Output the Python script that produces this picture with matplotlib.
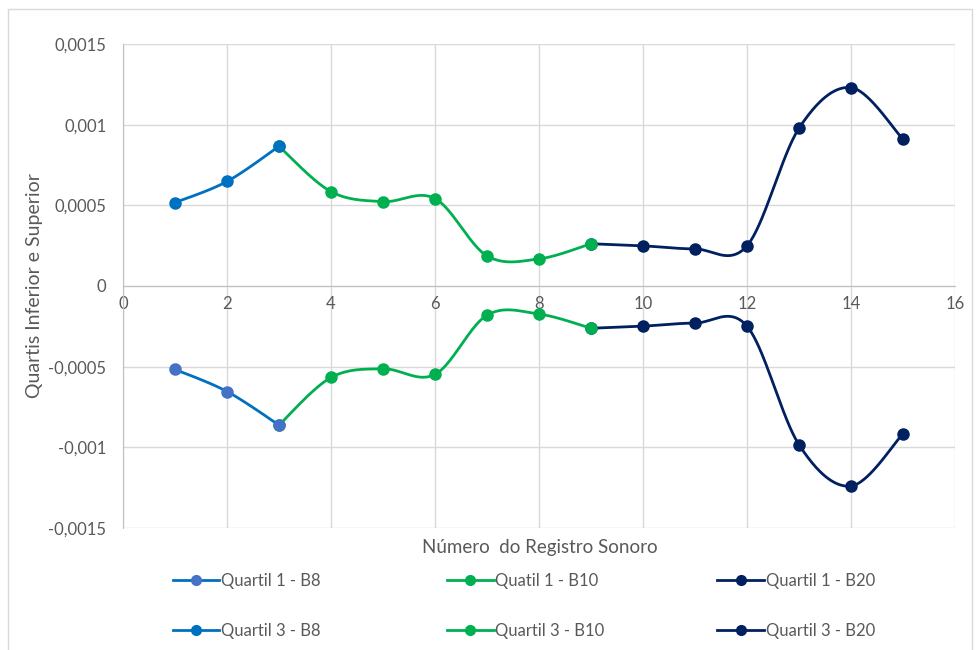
import numpy as np
import matplotlib.pyplot as plt
from matplotlib.lines import Line2D

plt.rcParams['font.family'] = ['Lato', 'DejaVu Sans']

# data
x_b8 = [1, 2, 3]
q3_b8 = [0.000517, 0.000648, 0.000866]
q1_b8 = [-0.000517, -0.000654, -0.000862]

x_b10 = [3, 4, 5, 6, 7, 8, 9]
q3_b10 = [0.000866, 0.000585, 0.000523, 0.000542, 0.000187, 0.000168, 0.000262]
q1_b10 = [-0.000862, -0.000567, -0.000513, -0.000548, -0.000181, -0.000174, -0.000262]

x_b20 = [9, 10, 11, 12, 13, 14, 15]
q3_b20 = [0.000262, 0.000249, 0.000230, 0.000249, 0.000978, 0.001230, 0.000909]
q1_b20 = [-0.000262, -0.000249, -0.000230, -0.000249, -0.000984, -0.001240, -0.000915]

labels = ['Quartil 1 - B8', 'Quartil 3 - B8', 'Quatil 1 - B10',
          'Quartil 3 - B10', 'Quartil 1 - B20', 'Quartil 3 - B20']

BLUE = '#0070c0'
BLUE_LIGHT = '#4472c4'
GREEN = '#00b050'
NAVY = '#002060'
GRID = '#d9d9d9'
TXT = '#595959'


def smooth(x, y, n=40):
    # excel-like smoothed line: cubic bezier with catmull-rom control points
    p = np.column_stack([x, y]).astype(float)
    ext = np.vstack([p[0], p, p[-1]])
    t = np.linspace(0, 1, n)[:, None]
    out = []
    for i in range(len(p) - 1):
        p0, p3 = ext[i + 1], ext[i + 2]
        c1 = p0 + (ext[i + 2] - ext[i]) / 6
        c2 = p3 - (ext[i + 3] - ext[i + 1]) / 6
        seg = ((1 - t) ** 3) * p0 + 3 * ((1 - t) ** 2) * t * c1 + 3 * (1 - t) * t ** 2 * c2 + t ** 3 * p3
        out.append(seg)
    out = np.vstack(out)
    return out[:, 0], out[:, 1]


fig = plt.figure(figsize=(9.76, 6.5), dpi=100)
ax = fig.add_axes([0.126, 0.1877, 0.8525, 0.7446])

series = [
    (x_b20, q1_b20, NAVY, NAVY, 2),
    (x_b20, q3_b20, NAVY, NAVY, 2),
    (x_b10, q1_b10, GREEN, GREEN, 3),
    (x_b10, q3_b10, GREEN, GREEN, 3),
    (x_b8, q1_b8, BLUE, BLUE_LIGHT, 4),
    (x_b8, q3_b8, BLUE, BLUE, 4),
]
for xs, ys, lc, mc, z in series:
    sx, sy = smooth(xs, ys)
    ax.plot(sx, sy, color=lc, lw=2.0, zorder=z, solid_capstyle='round')
    ax.plot(xs, ys, 'o', color=mc, ms=8, zorder=z + 0.5)

ax.set_xlim(0, 16)
ax.set_ylim(-0.0015, 0.0015)
ax.set_xticks(np.arange(0, 17, 2))
ax.set_yticks([-0.0015, -0.001, -0.0005, 0, 0.0005, 0.001, 0.0015])
ax.set_yticklabels(['-0,0015', '-0,001', '-0,0005', '0', '0,0005', '0,001', '0,0015'])
ax.grid(True, color=GRID, lw=1.0)
ax.set_axisbelow(True)

for s in ['top', 'right']:
    ax.spines[s].set_visible(False)
ax.spines['bottom'].set_position(('data', 0))
ax.spines['bottom'].set_color('#bfbfbf')
ax.spines['left'].set_color('#bfbfbf')
ax.tick_params(axis='both', length=0, labelsize=12, colors=TXT)
ax.tick_params(axis='x', pad=7)
ax.tick_params(axis='y', pad=12)

ax.set_ylabel('Quartis Inferior e Superior', fontsize=14, color=TXT, labelpad=4)
fig.text(0.553, 0.158, 'Número  do Registro Sonoro', fontsize=13.5, color=TXT,
         ha='center', va='center')

handles = [
    Line2D([], [], color=BLUE, lw=2, marker='o', mfc=BLUE_LIGHT, mec=BLUE_LIGHT, ms=7),
    Line2D([], [], color=BLUE, lw=2, marker='o', mfc=BLUE, mec=BLUE, ms=7),
    Line2D([], [], color=GREEN, lw=2, marker='o', ms=7),
    Line2D([], [], color=GREEN, lw=2, marker='o', ms=7),
    Line2D([], [], color=NAVY, lw=2, marker='o', ms=7),
    Line2D([], [], color=NAVY, lw=2, marker='o', ms=7),
]
col_x = [0.177, 0.458, 0.735]
for k, cx in enumerate(col_x):
    leg = fig.legend(handles[2 * k:2 * k + 2], labels[2 * k:2 * k + 2], loc='center left',
                     bbox_to_anchor=(cx, 0.0677), frameon=False, fontsize=12,
                     handlelength=2.8, handletextpad=0.1, labelspacing=2.05, borderpad=0,
                     borderaxespad=0)
    for t in leg.get_texts():
        t.set_color(TXT)

# outer chart frame
fig.patches.append(plt.Rectangle((0.008, -0.05), 0.988, 1.036, transform=fig.transFigure,
                                 fill=False, edgecolor=GRID, lw=1.0))

fig.savefig('out.png', dpi=100)
